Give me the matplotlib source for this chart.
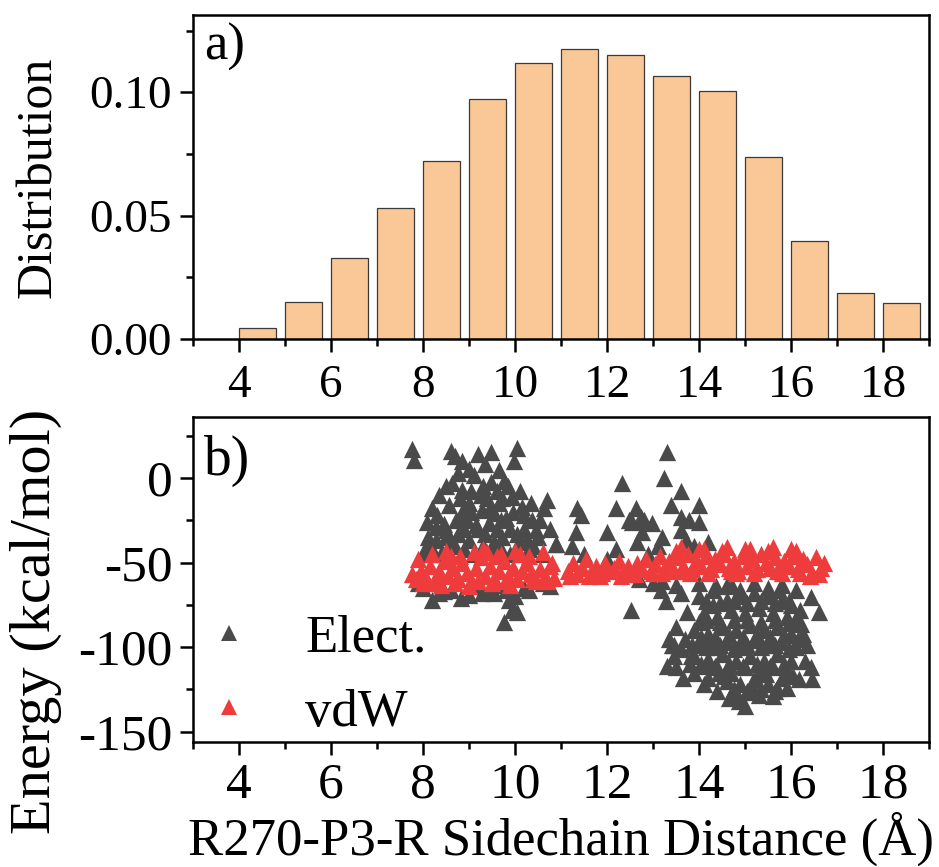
import matplotlib
matplotlib.use("Agg")
import matplotlib.pyplot as plt
from matplotlib.ticker import MultipleLocator, FormatStrFormatter
from matplotlib.lines import Line2D

plt.rcParams['font.family'] = ['Liberation Serif', 'DejaVu Serif']
plt.rcParams['axes.unicode_minus'] = False

# ---------------- data ----------------
bin_left = [4, 5, 6, 7, 8, 9, 10, 11, 12, 13, 14, 15, 16, 17, 18]
distribution = [0.0043, 0.0149, 0.0328, 0.0531, 0.0720, 0.0973, 0.1119, 0.1176,
                0.1149, 0.1064, 0.1007, 0.0739, 0.0399, 0.0185, 0.0145]

elect_x = [7.77, 7.80, 8.60, 8.70, 8.85, 9.20, 9.48, 10.04, 9.98, 9.65, 9.10, 9.48, 8.63, 8.85, 9.04,
           8.35, 8.57, 9.72, 9.93, 10.15, 10.70, 10.63, 9.28, 9.54, 8.85, 8.72, 8.09, 8.28, 8.50, 9.43,
           9.80, 10.37, 10.46, 10.90, 8.07, 8.28, 8.50, 9.00, 9.72, 10.09, 9.30, 9.60, 9.20, 9.60, 9.90,
           10.20, 8.90, 8.70, 9.30, 9.50, 10.30, 10.60, 8.00, 8.40, 9.10, 9.90, 10.20, 9.40, 9.00, 8.90,
           10.50, 8.20,
           8.10, 8.30, 8.45, 8.60, 8.75, 8.80, 8.95, 9.05, 9.15, 9.25, 9.35, 9.45, 9.55, 9.65, 9.70,
           9.85, 9.95, 10.05, 10.10, 10.25, 10.35, 10.55, 10.75, 9.00, 9.35, 8.75, 9.75, 8.50, 8.20,
           8.90, 9.70, 10.40,
           8.35, 8.83, 9.28, 9.43, 9.80, 9.87, 9.93, 10.04, 9.76, 10.46, 10.89, 7.90, 8.00, 8.60, 9.10,
           9.60, 10.20, 10.60, 10.00, 8.20, 8.45, 9.00, 9.55, 10.30, 10.75,
           11.35, 11.43, 11.33, 11.24, 12.00, 12.20, 12.20, 12.33, 12.63, 12.54, 12.74, 12.98, 12.76,
           12.65, 11.50, 11.67, 12.52, 12.00, 12.90, 13.10,
           13.30, 13.24, 13.60, 13.40, 14.00, 13.60, 13.78, 14.00, 13.60, 13.72, 12.48, 12.80, 13.20,
           13.90, 14.20, 13.00, 13.50, 12.70,
           13.35, 13.41, 13.30, 13.50, 14.20, 14.87, 15.60, 15.10, 16.43, 16.60, 16.43, 16.46, 16.17,
           15.90, 16.35, 16.10, 16.22, 13.20, 13.28, 13.17, 14.00, 14.37, 14.72, 15.74, 13.74, 13.60,
           13.83, 14.00, 14.15, 14.43, 13.46,
           14.00, 14.30, 14.60, 14.90, 15.20, 15.50, 15.80, 16.10, 13.60,
           14.30, 14.60, 14.90, 15.20, 15.50, 15.80, 16.00,
           14.10, 14.40, 14.70, 15.00, 15.30, 15.60, 15.90, 16.20,
           13.90, 14.20, 14.50, 14.80, 15.10, 15.40, 15.70, 16.00,
           13.70, 14.00, 14.30, 14.60, 14.90, 15.20, 15.50, 15.80, 16.10,
           13.90, 14.20, 14.50, 14.80, 15.10, 15.40, 15.70, 16.00,
           14.40, 14.70, 15.00, 15.30, 15.60, 15.90,
           14.60, 14.90, 15.20, 15.50, 15.80,
           14.80, 15.30,
           13.50, 13.45, 13.65, 13.90, 14.10, 14.40, 15.00, 15.70, 16.30, 16.25, 14.65,
           14.15, 14.45, 14.75, 15.05, 15.35, 15.65, 15.95, 14.05, 14.35, 14.65, 14.95, 15.25, 15.55,
           15.85, 16.15, 13.80, 14.55, 15.15, 15.45, 16.05,
           14.15, 14.45, 14.75, 15.05, 15.35, 15.65, 15.95,
           13.85, 14.15, 14.45, 14.75, 15.05, 15.35, 15.65, 15.95,
           14.05, 14.35, 14.65, 14.95, 15.25, 15.55, 15.85,
           14.75, 15.05, 15.35, 15.65]
elect_y = [17.0, 10.5, 16.0, 13.0, 10.0, 14.0, 15.0, 17.5, 10.0, 4.5, 1.5, -2.5, -3.0, -7.0, -8.0,
           -10.0, -16.0, -12.0, -11.0, -17.0, -13.0, -18.0, -19.0, -21.0, -23.0, -25.0, -26.0, -29.0,
           -31.0, -26.5, -23.5, -25.0, -31.0, -39.0, -40.6, -36.5, -34.7, -36.5, -34.7, -38.0, -5.0,
           -8.0, -30.0, -30.0, -30.0, -30.0, -30.0, -40.0, -40.0, -42.0, -42.0, -45.0, -45.0, -45.0,
           -45.0, -45.0, -22.0, -12.0, -15.0, -18.0, -35.0, -18.0,
           -35.0, -22.0, -27.0, -38.0, -33.0, -12.0, -25.0, -20.0, -28.0, -10.0, -33.0, -18.0, -38.0,
           -15.0, -25.0, -5.0, -20.0, -33.0, -8.0, -36.0, -15.0, -25.0, -30.0, 5.0, 8.0, 3.0, -2.0,
           -5.0, -42.0, -42.0, -42.0, -40.0,
           -68.0, -71.0, -68.0, -67.0, -66.0, -72.0, -78.0, -79.0, -85.0, -61.0, -39.0, -62.0, -65.0,
           -66.0, -64.0, -63.0, -65.0, -62.0, -70.0, -72.0, -67.0, -69.0, -68.0, -66.0, -64.0,
           -17.6, -22.0, -32.0, -40.0, -32.0, -42.0, -17.6, -3.0, -17.6, -26.0, -23.0, -26.5, -32.0,
           -38.0, -45.0, -56.0, -78.0, -48.0, -45.0, -40.0,
           15.0, 0.0, -8.0, -16.0, -16.0, -23.0, -25.0, -26.0, -31.0, -36.5, -25.0, -25.0, -35.0,
           -40.0, -38.0, -62.0, -63.0, -60.0,
           -95.0, -99.0, -111.0, -112.0, -118.0, -132.0, -129.0, -126.5, -70.6, -79.0, -112.0, -119.0,
           -119.0, -124.0, -99.0, -83.5, -86.5, -61.0, -73.0, -66.0, -70.0, -64.0, -64.0, -66.0, -79.0,
           -101.0, -105.0, -85.0, -111.0, -115.0, -99.0,
           -62.0, -66.0, -63.0, -66.0, -62.0, -65.0, -63.0, -66.0, -68.0,
           -75.0, -72.0, -70.0, -68.0, -70.0, -72.0, -75.0,
           -80.0, -82.0, -78.0, -80.0, -77.0, -80.0, -82.0, -78.0,
           -90.0, -92.0, -88.0, -90.0, -87.0, -90.0, -88.0, -92.0,
           -95.0, -98.0, -100.0, -97.0, -100.0, -96.0, -99.0, -97.0, -100.0,
           -105.0, -107.0, -104.0, -108.0, -105.0, -108.0, -104.0, -108.0,
           -112.0, -115.0, -112.0, -116.0, -112.0, -114.0,
           -120.0, -122.0, -119.0, -122.0, -118.0,
           -127.0, -128.0,
           -88.0, -105.0, -118.0, -115.0, -122.0, -126.0, -135.0, -124.0, -108.0, -92.0, -130.0,
           -84.0, -85.0, -84.0, -84.0, -85.0, -84.0, -86.0, -94.0, -94.0, -93.0, -94.0, -93.0, -94.0,
           -93.0, -95.0, -110.0, -117.0, -123.0, -116.0, -117.0,
           -73.0, -74.0, -73.0, -74.0, -73.0, -74.0, -73.0,
           -99.0, -100.0, -99.0, -101.0, -99.0, -100.0, -99.0, -101.0,
           -110.0, -111.0, -110.0, -111.0, -110.0, -111.0, -110.0,
           -125.0, -126.0, -125.0, -126.0]

vdw_x = [7.75, 7.85, 7.95, 8.05, 8.15, 8.25, 8.35, 8.45, 8.55, 8.65, 8.75, 8.85, 8.95, 9.05, 9.15,
         9.25, 9.35, 9.45, 9.55, 9.65, 9.75, 9.85, 9.95, 10.05, 10.15, 10.25, 10.35, 10.45, 10.55,
         10.65, 10.75, 10.85, 8.10, 8.60, 9.00, 9.40, 9.90, 10.10, 8.40, 9.60,
         7.90, 8.20, 8.50, 8.80, 9.10, 9.30, 9.70, 10.00, 10.30, 10.60, 10.80,
         8.00, 8.30, 8.70, 9.20, 9.50, 9.80, 10.40, 10.70,
         11.15, 11.25, 11.35, 11.45, 11.55, 11.65, 11.75, 11.85, 11.95, 12.05, 12.15, 12.25, 12.35,
         12.45, 12.55, 12.65, 12.75, 12.85, 12.95, 13.05, 13.15, 13.25, 13.35, 13.45, 13.55, 13.65,
         13.75, 13.85, 13.95, 14.05, 14.15, 14.25, 14.35, 14.45, 14.55, 14.65, 14.75, 14.85, 14.95,
         15.05, 15.15, 15.25, 15.35, 15.45, 15.55, 15.65, 15.75, 15.85, 15.95, 16.05, 16.15, 16.25,
         16.35, 16.45, 16.55, 16.65, 16.72,
         11.60, 12.30, 13.00, 13.50, 14.00, 14.50, 15.00, 15.50, 16.00, 16.40, 13.80, 14.80, 15.80,
         11.20, 11.90, 12.60, 13.20, 13.70, 14.20, 14.70, 15.20, 15.70, 16.20, 16.60,
         13.60, 14.10, 14.60, 15.10, 15.60, 16.10]
vdw_y = [-57.0, -60.0, -55.0, -58.0, -52.0, -61.0, -55.0, -49.0, -58.0, -53.0, -60.0, -50.0, -56.0,
         -61.0, -53.0, -47.0, -58.0, -52.0, -60.0, -55.0, -49.0, -58.0, -53.0, -60.0, -55.0, -50.0,
         -57.0, -61.0, -54.0, -58.0, -52.0, -59.0, -62.0, -46.0, -64.0, -44.0, -63.0, -45.0, -63.0, -46.0,
         -48.0, -45.0, -43.0, -46.0, -44.0, -42.0, -45.0, -43.0, -46.0, -44.0, -50.0,
         -62.0, -60.0, -62.0, -61.0, -62.0, -61.0, -60.0, -61.0,
         -55.0, -50.0, -57.0, -53.0, -48.0, -56.0, -52.0, -58.0, -50.0, -55.0, -53.0, -49.0, -56.0,
         -52.0, -57.0, -50.0, -54.0, -48.0, -55.0, -51.0, -46.0, -53.0, -49.0, -55.0, -47.0, -52.0,
         -45.0, -54.0, -49.0, -52.0, -46.0, -54.0, -48.0, -51.0, -45.0, -53.0, -49.0, -55.0, -46.0,
         -52.0, -48.0, -54.0, -45.0, -50.0, -53.0, -47.0, -55.0, -49.0, -52.0, -46.0, -54.0, -48.0,
         -51.0, -56.0, -47.0, -53.0, -50.0,
         -58.0, -58.0, -56.0, -43.0, -42.0, -43.0, -42.0, -43.0, -42.0, -58.0, -56.0, -56.0, -56.0,
         -58.0, -56.0, -57.0, -56.0, -55.0, -56.0, -55.0, -56.0, -55.0, -56.0, -57.0,
         -41.0, -42.0, -41.0, -42.0, -41.0, -43.0]

# ---------------- styles ----------------
GRAY = '#4a4a4a'
RED = '#ee3b3b'
BAR = '#f9c896'
SPINE_W = 1.8

fig = plt.figure(figsize=(9.39, 8.67), dpi=100)
ax1 = fig.add_axes([0.2055, 0.609, 0.784, 0.3737])
ax2 = fig.add_axes([0.2055, 0.1442, 0.784, 0.3749])

# ---- panel a ----
ax1.bar(bin_left, distribution, width=0.8, align='edge', color=BAR,
        edgecolor='#3a3a3a', linewidth=0.9, zorder=2)
ax1.set_xlim(3, 19)
ax1.set_ylim(0, 0.1313)
ax1.xaxis.set_major_locator(MultipleLocator(2))
ax1.xaxis.set_minor_locator(MultipleLocator(1))
ax1.yaxis.set_major_locator(MultipleLocator(0.05))
ax1.yaxis.set_minor_locator(MultipleLocator(0.025))
ax1.yaxis.set_major_formatter(FormatStrFormatter('%.2f'))
ax1.set_ylabel('Distribution', fontsize=36)
ax1.yaxis.set_label_coords(-0.178, 0.5)
ax1.text(0.015, 0.975, 'a)', transform=ax1.transAxes, fontsize=38, va='top', ha='left')
ax1.tick_params(axis='both', which='major', labelsize=34, direction='out', length=9.5,
                width=SPINE_W, pad=6)
ax1.tick_params(axis='x', which='major', pad=9)
ax1.tick_params(axis='both', which='minor', direction='out', length=5, width=SPINE_W)

# ---- panel b ----
ax2.scatter(elect_x, elect_y, marker='^', s=155, color=GRAY, linewidths=0, zorder=2)
ax2.scatter(vdw_x, vdw_y, marker='^', s=155, color=RED, linewidths=0, zorder=3)
ax2.set_xlim(3, 19)
ax2.set_ylim(-156, 36)
ax2.xaxis.set_major_locator(MultipleLocator(2))
ax2.xaxis.set_minor_locator(MultipleLocator(1))
ax2.yaxis.set_major_locator(MultipleLocator(50))
ax2.yaxis.set_minor_locator(MultipleLocator(25))
ax2.set_ylabel('Energy (kcal/mol)', fontsize=42)
ax2.yaxis.set_label_coords(-0.178, 0.37)
ax2.set_xlabel('R270-P3-R Sidechain Distance (Å)', fontsize=38, labelpad=2)
ax2.text(0.015, 0.945, 'b)', transform=ax2.transAxes, fontsize=40, va='top', ha='left')
ax2.tick_params(axis='both', which='major', labelsize=37, direction='out', length=9.5,
                width=SPINE_W, pad=5)
ax2.tick_params(axis='both', which='minor', direction='out', length=5, width=SPINE_W)

handles = [Line2D([], [], marker='^', ls='', color=GRAY, ms=12, mew=0),
           Line2D([], [], marker='^', ls='', color=RED, ms=12, mew=0)]
ax2.legend(handles, ['Elect.', 'vdW'], loc='lower left', bbox_to_anchor=(0.02, 0.0),
           frameon=False, fontsize=38, handlelength=0.6, handletextpad=1.15,
           labelspacing=0.5, borderpad=0, borderaxespad=0.1)

for ax in (ax1, ax2):
    for sp in ax.spines.values():
        sp.set_linewidth(SPINE_W)

fig.savefig('out.png', dpi=100)
